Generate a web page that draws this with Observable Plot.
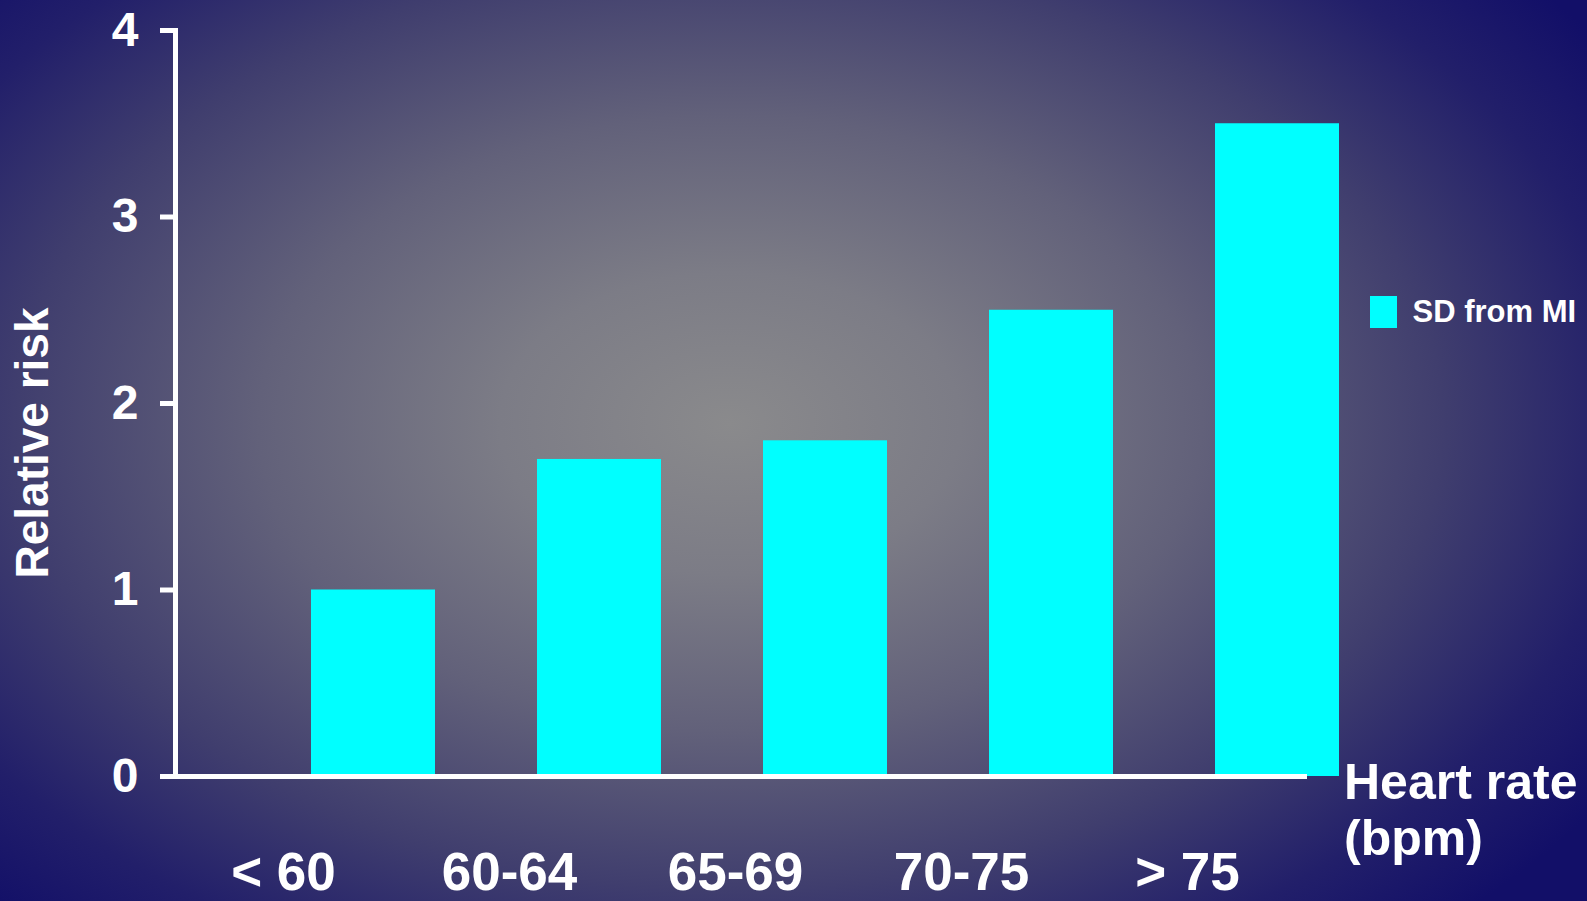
<!DOCTYPE html>
<html>
<head>
<meta charset="utf-8">
<script src="https://cdn.jsdelivr.net/npm/d3@7"></script>
<script src="https://cdn.jsdelivr.net/npm/@observablehq/plot@0.6"></script>
<style>
  html, body { margin: 0; padding: 0; }
  body { width: 1587px; height: 901px; overflow: hidden; }
  #wrap {
    position: relative; width: 1587px; height: 901px; overflow: hidden;
    background: radial-gradient(ellipse 66% 76% at 46% 47%, #8a8a8c 0%, #7c7c86 22%, #62617a 45%, #403e6e 68%, #221f6a 86%, #120f68 100%);
    font-family: "Liberation Sans", Arial, sans-serif; font-weight: bold; color: white;
  }
  #chart { position: absolute; left: 0; top: 0; }
  .lbl { position: absolute; white-space: nowrap; line-height: 1; }
  #legend { position: absolute; left: 1370px; top: 294px; width: 217px; white-space: nowrap; }
  #legend div, #legend span { white-space: nowrap; }
</style>
</head>
<body>
<div id="wrap">
  <div id="chart"></div>
  <div class="lbl" id="ylab" style="left:32px; top:443px; font-size:46px; transform: translate(-50%,-50%) rotate(-90deg);">Relative risk</div>
  <div class="lbl" id="xlab" style="left:1344px; top:754px; font-size:50px; line-height:56px;">Heart rate<br>(bpm)</div>
  <div id="legend"></div>
</div>
<script>
const categories = ["< 60", "60-64", "65-69", "70-75", "> 75"];
const relativeRisk = [1.0, 1.7, 1.8, 2.5, 3.5];
const yTicks = [0, 1, 2, 3, 4];
const seriesName = "SD from MI";
const barColor = "#00ffff";

const data = categories.map((c, i) => ({category: c, value: relativeRisk[i]}));

const chart = Plot.plot({
  width: 1587,
  height: 901,
  marginLeft: 175,
  marginRight: 111,
  marginTop: 30,
  marginBottom: 125,
  style: {background: "transparent", color: "white", fontFamily: "'Liberation Sans', Arial, sans-serif", fontWeight: "bold", overflow: "visible"},
  x: {domain: categories, paddingInner: 0.45, paddingOuter: 0.6, axis: null},
  y: {domain: [0, 4], axis: null},
  marks: [
    Plot.barY(data, {x: "category", y: "value", fill: barColor}),
    Plot.axisY({ticks: yTicks, tickSize: 15, tickPadding: 22, fontSize: 48, strokeWidth: 5, label: null, tickFormat: d => String(d)}),
    Plot.axisX({tickSize: 0, tickPadding: 76, fontSize: 53, dx: -90, label: null}),
    Plot.frame({anchor: "left", stroke: "white", strokeWidth: 5}),
    Plot.ruleY([0], {stroke: "white", strokeWidth: 5, insetLeft: -15, insetRight: 169})
  ]
});
document.getElementById("chart").appendChild(chart);

const legend = Plot.legend({
  color: {type: "ordinal", domain: [seriesName], range: [barColor]},
  swatchWidth: 27, swatchHeight: 32,
  style: {fontSize: "31px", fontWeight: "bold", color: "white", fontFamily: "'Liberation Sans', Arial, sans-serif", background: "transparent", whiteSpace: "nowrap"}
});
document.getElementById("legend").appendChild(legend);
</script>
</body>
</html>
